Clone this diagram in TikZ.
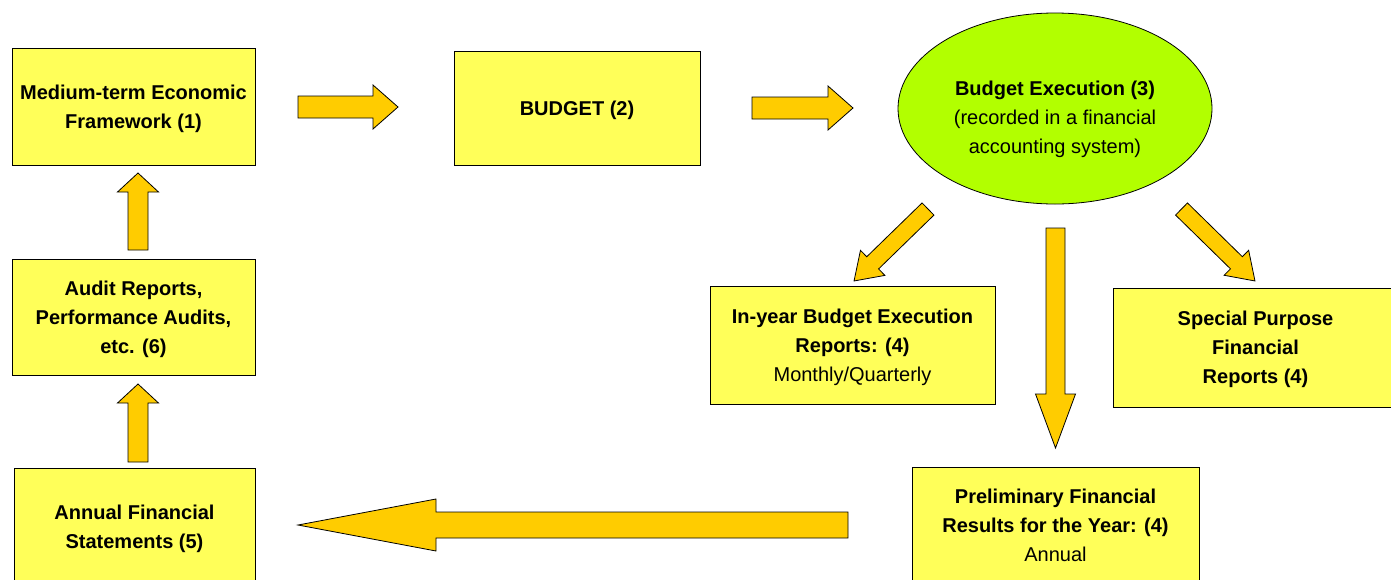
\documentclass[tikz,border=0pt]{standalone}
\usepackage{fontspec}
\setmainfont{Liberation Sans}
\usepackage{tikz}
\usetikzlibrary{shapes.geometric, positioning, calc}
\definecolor{boxyellow}{RGB}{255,255,89}
\definecolor{execgreen}{RGB}{178,255,0}
\definecolor{arrowgold}{RGB}{255,204,0}

% block arrow: start, end, shaft half width, head half width, head length
\newcommand{\blockarrow}[5]{%
  \path let \p1=($(#2)-(#1)$), \n1={atan2(\y1,\x1)}, \n2={veclen(\x1,\y1)} in
    \pgfextra{\xdef\arrang{\n1}\xdef\arrlen{\n2}};
  \draw[fatarrow, shift={(#1)}, rotate=\arrang]
    (0pt,-#3pt) -- (\arrlen-#5pt,-#3pt) -- (\arrlen-#5pt,-#4pt) -- (\arrlen,0pt)
    -- (\arrlen-#5pt,#4pt) -- (\arrlen-#5pt,#3pt) -- (0pt,#3pt) -- cycle;}

\begin{document}
\begin{tikzpicture}[
    x=1pt, y=-1pt,
    box/.style={rectangle, draw=black, fill=boxyellow, line width=0.8pt, align=center,
                font=\bfseries\fontsize{20}{29}\selectfont, inner sep=0pt, text depth=0pt},
    execution/.style={ellipse, draw=black, fill=execgreen, line width=0.8pt, inner sep=0pt},
    fatarrow/.style={draw=black, fill=arrowgold, line width=0.8pt, line join=miter}
]
    \clip (0,0) rectangle (1391,579);

    % Top row
    \node[box, minimum width=243pt, minimum height=117pt] (mtef) at (133.5,106.5)
        {Medium-term Economic\\Framework (1)};
    \node[box, minimum width=246pt, minimum height=114pt] (budget) at (577,108) {BUDGET (2)};
    \node[execution, minimum width=314pt, minimum height=191pt] (exec) at (1055,108.5) {};
    \node[align=center, font=\fontsize{20}{29}\selectfont] (exectext) at ([yshift=-11pt]exec.center)
        {\textbf{Budget Execution (3)}\\(recorded in a financial\\accounting system)};

    % Reports
    \node[box, minimum width=285pt, minimum height=118pt] (inyear) at (852.5,345)
        {In-year Budget Execution\\Reports: (4)\\{\mdseries Monthly/Quarterly}};
    \node[box, minimum width=285pt, minimum height=119pt] (special) at (1255.5,347.5)
        {Special Purpose\\Financial\\Reports (4)};
    \node[box, minimum width=287pt, minimum height=117pt] (prelim) at (1055.5,525.5)
        {Preliminary Financial\\Results for the Year: (4)\\{\mdseries Annual}};

    % Left column
    \node[box, minimum width=243pt, minimum height=116pt] (audit) at (133.5,317)
        {Audit Reports,\\Performance Audits,\\etc. (6)};
    \node[box, minimum width=241pt, minimum height=118pt] (annual) at (134.5,527)
        {Annual Financial\\Statements (5)};

    % Arrow ends
    \coordinate (mtefout) at (298,107);
    \coordinate (budgetin) at (398,107);
    \coordinate (budgetout) at (752,108);
    \coordinate (execin) at (853,108);
    \coordinate (execleft) at (928,209);
    \coordinate (inyearin) at (854,281);
    \coordinate (execright) at (1181.5,209);
    \coordinate (specialin) at (1255,281);
    \coordinate (execdown) at (1055.5,228);
    \coordinate (prelimin) at (1055.5,448);
    \coordinate (prelimout) at (848,525);
    \coordinate (annualin) at (298,525);
    \coordinate (annualout) at (138,462);
    \coordinate (auditin) at (138,384);
    \coordinate (auditout) at (138,250);
    \coordinate (mtefin) at (138,173);

    % Block arrows
    \blockarrow{mtefout}{budgetin}{11}{22}{25}
    \blockarrow{budgetout}{execin}{11}{22}{25}
    \blockarrow{execleft}{inyearin}{8.5}{17.5}{26}
    \blockarrow{execright}{specialin}{8.5}{17.5}{26}
    \blockarrow{execdown}{prelimin}{9.5}{20}{54}
    \blockarrow{prelimout}{annualin}{13}{26}{138}
    \blockarrow{annualout}{auditin}{10}{20.5}{19}
    \blockarrow{auditout}{mtefin}{10}{20.5}{19}
\end{tikzpicture}
\end{document}
